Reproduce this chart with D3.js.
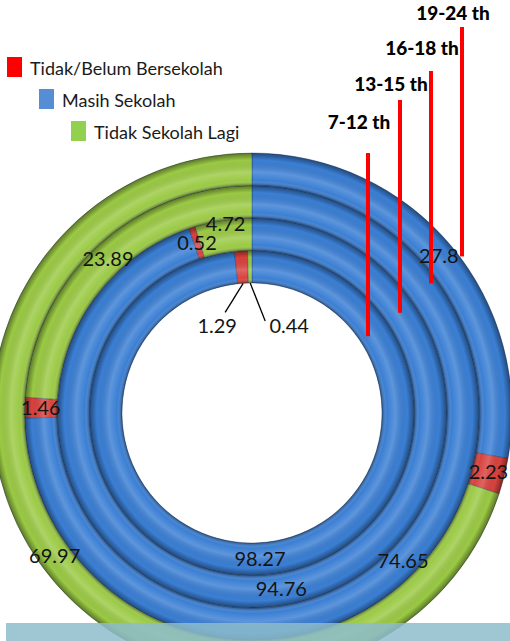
<!DOCTYPE html>
<html>
<head>
<meta charset="utf-8">
<script src="https://cdn.jsdelivr.net/npm/d3@7"></script>
<style>
  body { margin: 0; background: #fff; }
  svg { display: block; }
</style>
</head>
<body>
<svg id="chart" width="510" height="641"></svg>
<script>
// ring names, inner to outer
var rings = ["7-12 th", "13-15 th", "16-18 th", "19-24 th"];
// values per ring (percent), same order as rings
var masihSekolah = [98.27, 94.76, 74.65, 27.8];
var tidakBelum = [1.29, 0.52, 1.46, 2.23];
var tidakLagi = [0.44, 4.72, 23.89, 69.97];
var seriesNames = ["Tidak/Belum Bersekolah", "Masih Sekolah", "Tidak Sekolah Lagi"];

var svg = d3.select("#chart");
var width = 510, height = 641;
var cx = 252, cy = 413;
var innerR = 130, outerR = 260;

var sliceColors = { "Masih Sekolah": "#3b7fd4", "Tidak/Belum Bersekolah": "#d9423e", "Tidak Sekolah Lagi": "#9bca45" };
var legendColors = ["#ff0000", "#558ed5", "#92d050"];

var rScale = d3.scaleBand().domain(rings).range([innerR, outerR]).padding(0);
var bw = rScale.bandwidth();

var pie = d3.pie().sort(null).value(function(d){ return d.value; });

var defs = svg.append("defs");

var g = svg.append("g").attr("transform", "translate(" + cx + "," + cy + ")");
var labelLayer = [];

rings.forEach(function(ring, i){
  // excel keeps blue first, then red, then green, clockwise from 12 o'clock
  var slices = pie([
    { name: "Masih Sekolah", value: masihSekolah[i] },
    { name: "Tidak/Belum Bersekolah", value: tidakBelum[i] },
    { name: "Tidak Sekolah Lagi", value: tidakLagi[i] }
  ]);
  var r0 = rScale(ring), r1 = r0 + bw;
  var arc = d3.arc().innerRadius(r0).outerRadius(r1);

  g.selectAll(".slice-" + i)
    .data(slices)
    .enter().append("path")
    .attr("class", "slice-" + i)
    .attr("d", arc)
    .attr("fill", function(d){ return sliceColors[d.data.name]; })
    .attr("stroke", "rgba(20,40,80,0.35)")
    .attr("stroke-width", 1);

  // bevel shading over the whole ring
  var grad = defs.append("radialGradient")
    .attr("id", "shade" + i)
    .attr("gradientUnits", "userSpaceOnUse")
    .attr("cx", 0).attr("cy", 0).attr("r", r1);
  var f0 = r0 / r1;
  var stops = [
    [f0, "#000", 0.4],
    [f0 + (1 - f0) * 0.16, "#fff", 0.0],
    [f0 + (1 - f0) * 0.42, "#fff", 0.18],
    [f0 + (1 - f0) * 0.78, "#000", 0.0],
    [1, "#000", 0.42]
  ];
  stops.forEach(function(s){
    grad.append("stop").attr("offset", s[0]).attr("stop-color", s[1]).attr("stop-opacity", s[2]);
  });
  g.append("path")
    .attr("d", d3.arc().innerRadius(r0).outerRadius(r1).startAngle(0).endAngle(2 * Math.PI)())
    .attr("fill", "url(#shade" + i + ")");

  slices.forEach(function(d){
    labelLayer.push({ ring: i, slice: d, arc: arc, r0: r0 });
  });
});

// data labels on top of all rings
labelLayer.forEach(function(L){
  var d = L.slice;
  var c = L.arc.centroid(d);
  var lbl = g.append("text")
    .attr("font-family", "Lato, 'Open Sans', sans-serif")
    .attr("font-size", 20)
    .attr("fill", "#141414")
    .attr("text-anchor", "middle")
    .text(d.data.value);
  if(L.ring == 0 && d.data.name != "Masih Sekolah"){
    // tiny slices on the inner ring get a leader into the hole
    var a = (d.startAngle + d.endAngle) / 2;
    var sx = Math.sin(a) * L.r0, sy = -Math.cos(a) * L.r0;
    var left = d.data.name == "Tidak/Belum Bersekolah";
    var ex = sx + (left ? -18 : 15), ey = sy + (left ? 29 : 38);
    g.append("line")
      .attr("x1", sx).attr("y1", sy).attr("x2", ex).attr("y2", ey)
      .attr("stroke", "#000").attr("stroke-width", 1.3);
    lbl.attr("x", ex + (left ? -8 : 24)).attr("y", sy + 50);
  } else {
    // the small green piece of ring 2 has its label nudged up, like the original
    var lift = (L.ring == 1 && d.data.name == "Tidak Sekolah Lagi") ? 12 : 0;
    lbl.attr("x", c[0]).attr("y", c[1] + 7 - lift);
  }
});

// ring titles with red pointer lines
var titleX = [368, 400, 431, 462];
var titleY = [129, 91, 55, 20];
var lineTop = [153, 100, 71, 27];
var lineDepth = [0.28, 0.5, 0.8, 1.06];

rings.forEach(function(ring, i){
  var rr = rScale(ring) + bw * lineDepth[i];
  var dx = titleX[i] - cx;
  var yEnd = cy - Math.sqrt(rr * rr - dx * dx);
  svg.append("line")
    .attr("x1", titleX[i]).attr("x2", titleX[i])
    .attr("y1", lineTop[i]).attr("y2", yEnd)
    .attr("stroke", "#ff0000").attr("stroke-width", 4);
  svg.append("text")
    .attr("x", titleX[i] - 9)
    .attr("y", titleY[i])
    .attr("text-anchor", "middle")
    .attr("font-family", "Lato, sans-serif")
    .attr("font-weight", 900)
    .attr("font-size", 19)
    .attr("fill", "#000")
    .text(ring);
});

// legend
var legend = svg.append("g");
seriesNames.forEach(function(name, i){
  legend.append("rect")
    .attr("x", 7 + i * 32).attr("y", 57 + i * 32)
    .attr("width", 15).attr("height", 20)
    .attr("fill", legendColors[i]);
  legend.append("text")
    .attr("x", 30 + i * 32).attr("y", 75 + i * 32)
    .attr("font-family", "Lato, 'Open Sans', sans-serif")
    .attr("font-size", 18)
    .attr("fill", "#1a1a1a")
    .text(name);
});

// bottom caption band (cut off in the picture)
svg.append("rect")
  .attr("x", 6).attr("y", 623).attr("width", width - 6).attr("height", height - 623)
  .attr("fill", "#8dbccb").attr("opacity", 0.85);
</script>
</body>
</html>
